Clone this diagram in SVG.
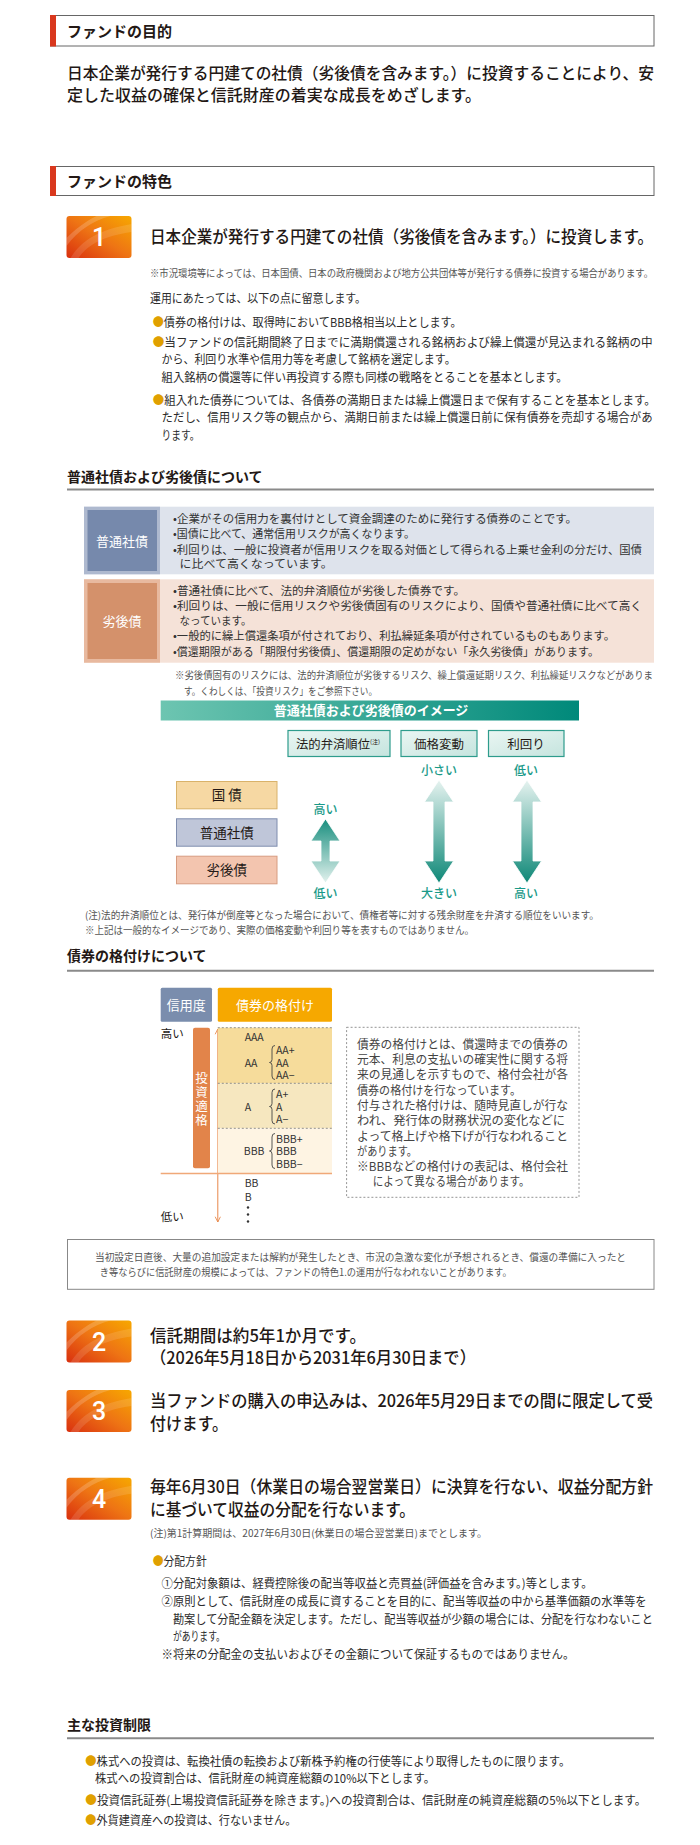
<svg xmlns="http://www.w3.org/2000/svg" xmlns:xlink="http://www.w3.org/1999/xlink" width="700" height="1845" viewBox="0 0 700 1845">
<style>
text{font-family:"Noto Sans CJK JP","Noto Sans",sans-serif;fill:#231815}
.h1{font-size:15px;font-weight:700}
.h2{font-size:14px;font-weight:700}
.lead{font-size:16px;font-weight:500}
.ttl{font-size:17px;font-weight:500}
.b{font-size:12px;fill:#2b2b2b}
.tb{font-size:11.5px;fill:#333}
.n{font-size:10px;fill:#555}
.gold{fill:#E0A000}
.w{fill:#fff}
.teal{fill:#1A9A89;font-size:12px;font-weight:500}
.num{font-family:Roboto,"Noto Sans",sans-serif;font-size:25px;font-weight:500;fill:#fff}
.rt{font-size:10.5px;fill:#333}
.dash{font-size:12px;fill:#444}
.hdr{fill:#fff;stroke:#666;stroke-width:1}
.rule{stroke:#8a8a8a;stroke-width:2}
.brace{fill:none;stroke:#444;stroke-width:0.9}
.box2{stroke:#2E9C8C;stroke-width:1.2}
</style>
<defs>
<linearGradient id="gBadge" x1="0" y1="1" x2="1" y2="0">
<stop offset="0" stop-color="#D9300F"/>
<stop offset="0.5" stop-color="#EE7414"/>
<stop offset="1" stop-color="#F7A800"/>
</linearGradient>
<linearGradient id="gBanner" x1="0" y1="0" x2="1" y2="0">
<stop offset="0" stop-color="#6DC5B1"/>
<stop offset="1" stop-color="#00897A"/>
</linearGradient>
<linearGradient id="gBox" x1="0" y1="0" x2="1" y2="1">
<stop offset="0" stop-color="#EAF6F3"/>
<stop offset="1" stop-color="#C5E4DE"/>
</linearGradient>
<linearGradient id="gDown" x1="0" y1="0" x2="0" y2="1">
<stop offset="0" stop-color="#E6F3F0"/>
<stop offset="1" stop-color="#0E8877"/>
</linearGradient>
<linearGradient id="gUp" x1="0" y1="0" x2="0" y2="1">
<stop offset="0" stop-color="#188E7E"/>
<stop offset="1" stop-color="#E3F2EE"/>
</linearGradient>
<g id="badge">
<rect x="0" y="0" width="65" height="42" rx="3" fill="url(#gBadge)"/>
<path d="M0,30 C12,14 26,5 44,0 L30,0 C18,6 8,14 0,22 Z" fill="#fff" opacity="0.18"/>
<path d="M4,42 C14,26 30,14 65,8 L65,16 C36,20 20,30 12,42 Z" fill="#fff" opacity="0.12"/>
</g>
<marker id="arr" viewBox="0 0 8 8" refX="7" refY="4" markerWidth="7" markerHeight="7" orient="auto-start-reverse" markerUnits="userSpaceOnUse">
<path d="M1,1 L7,4 L1,7" fill="none" stroke="#E8884A" stroke-width="1"/>
</marker>
</defs>
<rect width="700" height="1845" fill="#fff"/>

<g id="header-purpose">
<rect class="hdr" x="50.5" y="15.5" width="603.5" height="30.5"/>
<rect x="50" y="15" width="6" height="31.5" fill="#D9381E"/>
<text class="h1" x="67" y="36.5">ファンドの目的</text>
</g>

<g id="purpose">
<text class="lead" x="67" y="79" textLength="587" lengthAdjust="spacingAndGlyphs">日本企業が発行する円建ての社債（劣後債を含みます。）に投資することにより、安</text>
<text class="lead" x="67" y="101" textLength="414" lengthAdjust="spacingAndGlyphs">定した収益の確保と信託財産の着実な成長をめざします。</text>
</g>

<g id="header-features">
<rect class="hdr" x="50.5" y="166.5" width="603.5" height="29"/>
<rect x="50" y="166" width="6" height="30" fill="#D9381E"/>
<text class="h1" x="67" y="186.5">ファンドの特色</text>
</g>

<g id="feature1">
<use xlink:href="#badge" x="66.5" y="216"/>
<text class="num" x="99" y="246" text-anchor="middle">1</text>
<text class="ttl" x="150" y="242.5" textLength="503" lengthAdjust="spacingAndGlyphs">日本企業が発行する円建ての社債（劣後債を含みます。）に投資します。</text>
<text class="n" x="150" y="277" textLength="503" lengthAdjust="spacingAndGlyphs">※市況環境等によっては、日本国債、日本の政府機関および地方公共団体等が発行する債券に投資する場合があります。</text>
<text class="b" x="150" y="303" textLength="216" lengthAdjust="spacingAndGlyphs">運用にあたっては、以下の点に留意します。</text>
<text class="b" x="152.7" y="327" textLength="309" lengthAdjust="spacingAndGlyphs"><tspan class="gold">●</tspan>債券の格付けは、取得時においてBBB格相当以上とします。</text>
<text class="b" x="152.7" y="346.5" textLength="500" lengthAdjust="spacingAndGlyphs"><tspan class="gold">●</tspan>当ファンドの信託期間終了日までに満期償還される銘柄および繰上償還が見込まれる銘柄の中</text>
<text class="b" x="161.6" y="364" textLength="294" lengthAdjust="spacingAndGlyphs">から、利回り水準や信用力等を考慮して銘柄を選定します。</text>
<text class="b" x="161.6" y="382" textLength="406" lengthAdjust="spacingAndGlyphs">組入銘柄の償還等に伴い再投資する際も同様の戦略をとることを基本とします。</text>
<text class="b" x="152.7" y="404.5" textLength="503" lengthAdjust="spacingAndGlyphs"><tspan class="gold">●</tspan>組入れた債券については、各債券の満期日または繰上償還日まで保有することを基本とします。</text>
<text class="b" x="161.6" y="422" textLength="491" lengthAdjust="spacingAndGlyphs">ただし、信用リスク等の観点から、満期日前または繰上償還日前に保有債券を売却する場合があ</text>
<text class="b" x="161.6" y="439.5" textLength="38" lengthAdjust="spacingAndGlyphs">ります。</text>
</g>

<g id="bond-types">
<text class="h2" x="67" y="482">普通社債および劣後債について</text>
<line class="rule" x1="67" y1="489.5" x2="654" y2="489.5"/>
<rect x="84" y="506.7" width="570" height="67.6" fill="#DEE3EC"/>
<rect x="84" y="506.7" width="76" height="67.6" fill="#AEB9CF"/>
<rect x="87.5" y="510" width="69.5" height="61" fill="#7689AC"/>
<text class="w" x="122" y="545.5" text-anchor="middle" font-size="13">普通社債</text>
<text class="tb" x="173" y="522.7" textLength="404" lengthAdjust="spacingAndGlyphs">•企業がその信用力を裏付けとして資金調達のために発行する債券のことです。</text>
<text class="tb" x="173" y="538.4" textLength="242" lengthAdjust="spacingAndGlyphs">•国債に比べて、通常信用リスクが高くなります。</text>
<text class="tb" x="173" y="553.7" textLength="469" lengthAdjust="spacingAndGlyphs">•利回りは、一般に投資者が信用リスクを取る対価として得られる上乗せ金利の分だけ、国債</text>
<text class="tb" x="179.6" y="568.4" textLength="153" lengthAdjust="spacingAndGlyphs">に比べて高くなっています。</text>
<rect x="84" y="579.3" width="570" height="83.4" fill="#F5E2D8"/>
<rect x="84" y="579.3" width="76" height="83.4" fill="#E8B99F"/>
<rect x="87.5" y="583" width="69.5" height="76" fill="#D4916B"/>
<text class="w" x="122" y="626" text-anchor="middle" font-size="13">劣後債</text>
<text class="tb" x="173" y="594.8" textLength="292" lengthAdjust="spacingAndGlyphs">•普通社債に比べて、法的弁済順位が劣後した債券です。</text>
<text class="tb" x="173" y="609.8" textLength="469" lengthAdjust="spacingAndGlyphs">•利回りは、一般に信用リスクや劣後債固有のリスクにより、国債や普通社債に比べて高く</text>
<text class="tb" x="179.6" y="624.8" textLength="72" lengthAdjust="spacingAndGlyphs">なっています。</text>
<text class="tb" x="173" y="640" textLength="442" lengthAdjust="spacingAndGlyphs">•一般的に繰上償還条項が付されており、利払繰延条項が付されているものもあります。</text>
<text class="tb" x="173" y="655.5" textLength="426" lengthAdjust="spacingAndGlyphs">•償還期限がある「期限付劣後債」、償還期限の定めがない「永久劣後債」があります。</text>
<text class="n" x="175" y="679" textLength="478" lengthAdjust="spacingAndGlyphs">※劣後債固有のリスクには、法的弁済順位が劣後するリスク、繰上償還延期リスク、利払繰延リスクなどがありま</text>
<text class="n" x="184" y="695" textLength="193" lengthAdjust="spacingAndGlyphs">す。くわしくは、「投資リスク」をご参照下さい。</text>
</g>

<g id="image-chart">
<rect x="160.7" y="700.5" width="418.3" height="20" fill="url(#gBanner)"/>
<text class="w" x="371" y="715.3" text-anchor="middle" font-size="13" font-weight="700">普通社債および劣後債のイメージ</text>
<rect class="box2" x="288" y="730.5" width="102" height="26" fill="url(#gBox)"/>
<text x="296" y="749" font-size="12.5" fill="#333"><tspan textLength="74" lengthAdjust="spacingAndGlyphs">法的弁済順位</tspan><tspan font-size="6" dy="-5">(注)</tspan></text>
<rect class="box2" x="401" y="730.5" width="76" height="26" fill="url(#gBox)"/>
<text x="439" y="749" font-size="12.5" fill="#333" text-anchor="middle">価格変動</text>
<rect class="box2" x="488.5" y="730.5" width="75.5" height="26" fill="url(#gBox)"/>
<text x="526" y="749" font-size="12.5" fill="#333" text-anchor="middle">利回り</text>
<text class="teal" x="439" y="775" text-anchor="middle">小さい</text>
<text class="teal" x="526" y="775" text-anchor="middle">低い</text>
<rect x="176.5" y="781.5" width="100.5" height="27.3" fill="#F6D8A3" stroke="#D9B26A"/>
<text x="226.7" y="800" font-size="13.5" fill="#333" text-anchor="middle">国 債</text>
<rect x="176.5" y="818.8" width="100.5" height="27.4" fill="#BFC6D9" stroke="#7F8DAE"/>
<text x="226.7" y="837.5" font-size="13.5" fill="#333" text-anchor="middle">普通社債</text>
<rect x="176.5" y="856.2" width="100.5" height="27.6" fill="#F3C5AF" stroke="#D79C80"/>
<text x="226.7" y="875" font-size="13.5" fill="#333" text-anchor="middle">劣後債</text>
<text class="teal" x="325.5" y="813.5" text-anchor="middle">高い</text>
<text class="teal" x="325.5" y="898" text-anchor="middle">低い</text>
<text class="teal" x="439" y="898" text-anchor="middle">大きい</text>
<text class="teal" x="526" y="898" text-anchor="middle">高い</text>
<text class="n" x="85" y="919" textLength="514" lengthAdjust="spacingAndGlyphs">(注)法的弁済順位とは、発行体が倒産等となった場合において、債権者等に対する残余財産を弁済する順位をいいます。</text>
<text class="n" x="85" y="933.5" textLength="389" lengthAdjust="spacingAndGlyphs">※上記は一般的なイメージであり、実際の価格変動や利回り等を表すものではありません。</text>
</g>

<g id="connectors">
<polygon points="325.5,819 340,841 330,841 330,861 340,861 325.5,883 311,861 321,861 321,841 311,841" fill="url(#gUp)" stroke="#fff" stroke-width="0.8"/>
<polygon points="439,780 453.5,802 445,802 445,861 453.5,861 439,883 424.5,861 433,861 433,802 424.5,802" fill="url(#gDown)" stroke="#fff" stroke-width="0.8"/>
<polygon points="527,780 541.5,802 533,802 533,861 541.5,861 527,883 512.5,861 521,861 521,802 512.5,802" fill="url(#gDown)" stroke="#fff" stroke-width="0.8"/>
<line x1="217.8" y1="1029" x2="217.8" y2="1222" stroke="#E8884A" stroke-width="1" marker-start="url(#arr)" marker-end="url(#arr)"/>
</g>

<g id="rating-chart">
<text class="h2" x="67" y="961.3">債券の格付けについて</text>
<line class="rule" x1="67" y1="970.7" x2="654" y2="970.7"/>
<rect x="160.7" y="987.7" width="51.3" height="34" rx="1.5" fill="#7A8DAD"/>
<text class="w" x="186.3" y="1009.5" font-size="13" text-anchor="middle">信用度</text>
<rect x="217.8" y="987.7" width="114.2" height="34" rx="1.5" fill="#F6A800"/>
<text class="w" x="275" y="1009.5" font-size="13" text-anchor="middle">債券の格付け</text>
<text x="160.7" y="1038.4" font-size="11.5" fill="#333">高い</text>
<text x="160.7" y="1221" font-size="11.5" fill="#333">低い</text>
<rect x="193" y="1027.7" width="17" height="140.6" rx="2" fill="#E2844A"/>
<text class="w" x="201.5" y="1100" font-size="12.5" writing-mode="vertical-rl" text-anchor="middle" letter-spacing="1.5">投資適格</text>
<rect x="217.8" y="1027.7" width="114.2" height="55.6" fill="#F6DC9B"/>
<rect x="217.8" y="1083.3" width="114.2" height="45" fill="#F6E7BF"/>
<rect x="217.8" y="1128.3" width="114.2" height="45" fill="#FEF4E3"/>
<g stroke="#777" stroke-width="0.8" stroke-dasharray="2,2" fill="none">
<line x1="217.8" y1="1027.7" x2="332" y2="1027.7"/>
<line x1="217.8" y1="1083.3" x2="332" y2="1083.3"/>
<line x1="217.8" y1="1128.3" x2="332" y2="1128.3"/>
</g>
<line x1="160.7" y1="1173.5" x2="332" y2="1173.5" stroke="#F0A878" stroke-width="1.5"/>
<text class="rt" x="244.7" y="1040.7">AAA</text>
<text class="rt" x="244.7" y="1066.5">AA</text>
<path class="brace" d="M275,1045.5 Q272,1045.5 272,1049 L272,1059.5 Q272,1062.5 269.5,1062.5 Q272,1062.5 272,1065.5 L272,1076 Q272,1079.5 275,1079.5"/>
<text class="rt" x="276" y="1054">AA+</text>
<text class="rt" x="276" y="1066.5">AA</text>
<text class="rt" x="276" y="1078.5">AA−</text>
<text class="rt" x="244.7" y="1110.5">A</text>
<path class="brace" d="M275,1089 Q272,1089 272,1092.5 L272,1103.5 Q272,1106.5 269.5,1106.5 Q272,1106.5 272,1109.5 L272,1120.5 Q272,1124 275,1124"/>
<text class="rt" x="276" y="1097.8">A+</text>
<text class="rt" x="276" y="1110.5">A</text>
<text class="rt" x="276" y="1122.7">A−</text>
<text class="rt" x="243.8" y="1155">BBB</text>
<path class="brace" d="M275,1133.5 Q272,1133.5 272,1137 L272,1148 Q272,1151 269.5,1151 Q272,1151 272,1154 L272,1165 Q272,1168.5 275,1168.5"/>
<text class="rt" x="276" y="1142.5">BBB+</text>
<text class="rt" x="276" y="1155">BBB</text>
<text class="rt" x="276" y="1167.5">BBB−</text>
<text class="rt" x="244.7" y="1187.3">BB</text>
<text class="rt" x="244.7" y="1200.7">B</text>
<circle cx="248" cy="1207.5" r="1.2" fill="#333"/>
<circle cx="248" cy="1214.5" r="1.2" fill="#333"/>
<circle cx="248" cy="1221.5" r="1.2" fill="#333"/>
<rect x="346.6" y="1027.3" width="232.4" height="170" fill="none" stroke="#888" stroke-width="0.9" stroke-dasharray="2,2"/>
<text class="dash" x="357" y="1048.6" textLength="211" lengthAdjust="spacingAndGlyphs">債券の格付けとは、償還時までの債券の</text>
<text class="dash" x="357" y="1064" textLength="211" lengthAdjust="spacingAndGlyphs">元本、利息の支払いの確実性に関する将</text>
<text class="dash" x="357" y="1079.2" textLength="211" lengthAdjust="spacingAndGlyphs">来の見通しを示すもので、格付会社が各</text>
<text class="dash" x="357" y="1094.6" textLength="164" lengthAdjust="spacingAndGlyphs">債券の格付けを行なっています。</text>
<text class="dash" x="357" y="1110" textLength="211" lengthAdjust="spacingAndGlyphs">付与された格付けは、随時見直しが行な</text>
<text class="dash" x="357" y="1125.2" textLength="208" lengthAdjust="spacingAndGlyphs">われ、発行体の財務状況の変化などに</text>
<text class="dash" x="357" y="1140.6" textLength="211" lengthAdjust="spacingAndGlyphs">よって格上げや格下げが行なわれること</text>
<text class="dash" x="357" y="1155.6" textLength="60" lengthAdjust="spacingAndGlyphs">があります。</text>
<text class="dash" x="357" y="1171" textLength="211" lengthAdjust="spacingAndGlyphs">※BBBなどの格付けの表記は、格付会社</text>
<text class="dash" x="372.7" y="1186.3" textLength="157" lengthAdjust="spacingAndGlyphs">によって異なる場合があります。</text>
</g>

<g id="notice">
<rect x="67.5" y="1239.5" width="586.5" height="49.8" fill="none" stroke="#888" stroke-width="1"/>
<text class="n" x="95" y="1261" textLength="531" lengthAdjust="spacingAndGlyphs">当初設定日直後、大量の追加設定または解約が発生したとき、市況の急激な変化が予想されるとき、償還の準備に入ったと</text>
<text class="n" x="99.7" y="1275.5" textLength="412" lengthAdjust="spacingAndGlyphs">き等ならびに信託財産の規模によっては、ファンドの特色1.の運用が行なわれないことがあります。</text>
</g>

<g id="feature2">
<use xlink:href="#badge" x="66.5" y="1320.5"/>
<text class="num" x="99" y="1350.5" text-anchor="middle">2</text>
<text class="ttl" x="150" y="1341.5" textLength="216" lengthAdjust="spacingAndGlyphs">信託期間は約5年1か月です。</text>
<text class="ttl" x="150" y="1364" textLength="326" lengthAdjust="spacingAndGlyphs">（2026年5月18日から2031年6月30日まで）</text>
</g>

<g id="feature3">
<use xlink:href="#badge" x="66.5" y="1390"/>
<text class="num" x="99" y="1420" text-anchor="middle">3</text>
<text class="ttl" x="150" y="1407" textLength="503" lengthAdjust="spacingAndGlyphs">当ファンドの購入の申込みは、2026年5月29日までの間に限定して受</text>
<text class="ttl" x="150" y="1430" textLength="78" lengthAdjust="spacingAndGlyphs">付けます。</text>
</g>

<g id="feature4">
<use xlink:href="#badge" x="66.5" y="1477.7"/>
<text class="num" x="99" y="1508" text-anchor="middle">4</text>
<text class="ttl" x="150" y="1493" textLength="503" lengthAdjust="spacingAndGlyphs">毎年6月30日（休業日の場合翌営業日）に決算を行ない、収益分配方針</text>
<text class="ttl" x="150" y="1516" textLength="265" lengthAdjust="spacingAndGlyphs">に基づいて収益の分配を行ないます。</text>
<text class="n" x="150" y="1537" font-size="9.5" textLength="337" lengthAdjust="spacingAndGlyphs">(注)第1計算期間は、2027年6月30日(休業日の場合翌営業日)までとします。</text>
<text class="b" x="152.7" y="1565.6" textLength="54" lengthAdjust="spacingAndGlyphs"><tspan class="gold">●</tspan>分配方針</text>
<text class="b" x="161.6" y="1588" textLength="431" lengthAdjust="spacingAndGlyphs">①分配対象額は、経費控除後の配当等収益と売買益(評価益を含みます。)等とします。</text>
<text class="b" x="161.6" y="1606" textLength="485" lengthAdjust="spacingAndGlyphs">②原則として、信託財産の成長に資することを目的に、配当等収益の中から基準価額の水準等を</text>
<text class="b" x="172.9" y="1623.5" textLength="480" lengthAdjust="spacingAndGlyphs">勘案して分配金額を決定します。ただし、配当等収益が少額の場合には、分配を行なわないこと</text>
<text class="b" x="172.9" y="1641" textLength="52" lengthAdjust="spacingAndGlyphs">があります。</text>
<text class="b" x="161.6" y="1658.5" textLength="413" lengthAdjust="spacingAndGlyphs">※将来の分配金の支払いおよびその金額について保証するものではありません。</text>
</g>

<g id="restrictions">
<text class="h2" x="67" y="1729.6">主な投資制限</text>
<line class="rule" x1="67" y1="1738.3" x2="654" y2="1738.3"/>
<text class="b" x="85.3" y="1766.3" textLength="485" lengthAdjust="spacingAndGlyphs"><tspan class="gold">●</tspan>株式への投資は、転換社債の転換および新株予約権の行使等により取得したものに限ります。</text>
<text class="b" x="95" y="1783" textLength="340" lengthAdjust="spacingAndGlyphs">株式への投資割合は、信託財産の純資産総額の10%以下とします。</text>
<text class="b" x="85.3" y="1804.6" textLength="561" lengthAdjust="spacingAndGlyphs"><tspan class="gold">●</tspan>投資信託証券(上場投資信託証券を除きます。)への投資割合は、信託財産の純資産総額の5%以下とします。</text>
<text class="b" x="85.3" y="1824.6" textLength="211" lengthAdjust="spacingAndGlyphs"><tspan class="gold">●</tspan>外貨建資産への投資は、行ないません。</text>
</g>
</svg>
